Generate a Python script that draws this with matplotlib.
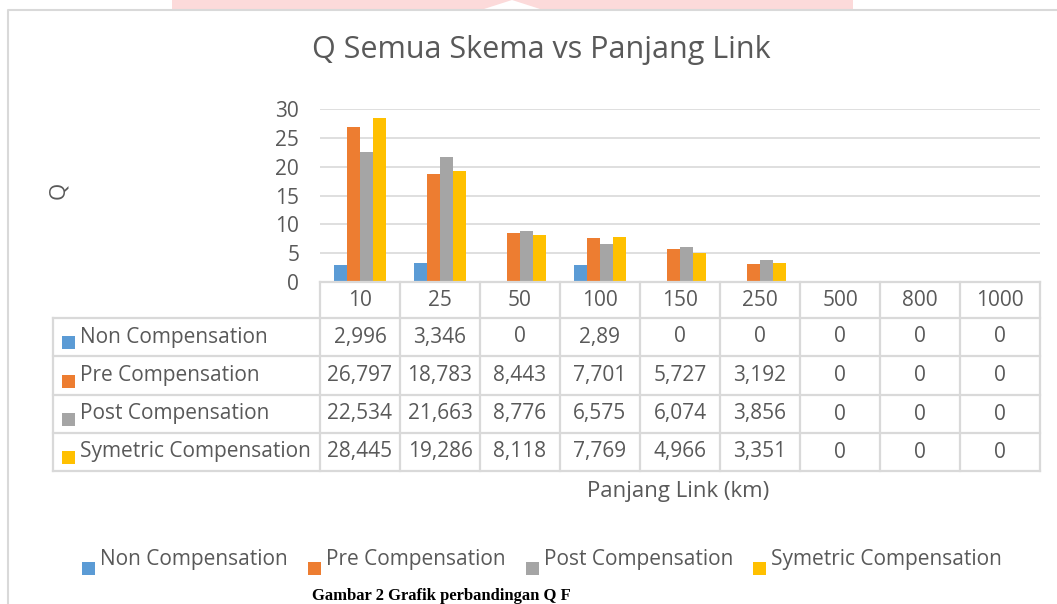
import matplotlib.pyplot as plt
from matplotlib.patches import Rectangle, Polygon
from matplotlib.lines import Line2D

plt.rcParams['font.family'] = ['Open Sans', 'DejaVu Sans']

categories = ['10', '25', '50', '100', '150', '250', '500', '800', '1000']
series_names = ['Non Compensation', 'Pre Compensation', 'Post Compensation', 'Symetric Compensation']
non_comp = [2.996, 3.346, 0, 2.89, 0, 0, 0, 0, 0]
pre_comp = [26.797, 18.783, 8.443, 7.701, 5.727, 3.192, 0, 0, 0]
post_comp = [22.534, 21.663, 8.776, 6.575, 6.074, 3.856, 0, 0, 0]
sym_comp = [28.445, 19.286, 8.118, 7.769, 4.966, 3.351, 0, 0, 0]
colors = ['#5b9bd5', '#ed7d31', '#a5a5a5', '#ffc000']
series = [non_comp, pre_comp, post_comp, sym_comp]

W, H = 1057, 604
fig = plt.figure(figsize=(W / 100, H / 100), dpi=100)
txt = '#595959'
grid = '#d9d9d9'
fs = 15


def fx(x):
    return x / W


def fy(y):
    return 1 - y / H


# watermark strip + chart frame
fig.patches.append(Polygon([(fx(172), fy(0)), (fx(853), fy(0)), (fx(853), fy(9)), (fx(540), fy(9)),
                            (fx(512), fy(0)), (fx(484), fy(9)), (fx(172), fy(9))],
                           closed=True, transform=fig.transFigure, color='#fcdada', lw=0))
fig.lines.append(Line2D([fx(8), fx(8), 1], [0, fy(10), fy(10)], transform=fig.transFigure, color=grid, lw=1.5))

# plot area
left, right, top, bottom = 320, 1040, 109, 282
ax = fig.add_axes([fx(left), fy(bottom), fx(right - left), (bottom - top) / H])
bw = 0.1625
for i, (vals, c) in enumerate(zip(series, colors)):
    xs = [k + (i - 1.5) * bw for k in range(len(categories))]
    ax.bar(xs, vals, width=bw, color=c, zorder=3)
ax.set_xlim(-0.5, len(categories) - 0.5)
ax.set_ylim(0, 30)
ax.set_yticks(range(0, 31, 5))
ax.yaxis.grid(True, color=grid, lw=1.2)
ax.set_xticks([])
for s in ['top', 'right', 'left', 'bottom']:
    ax.spines[s].set_visible(False)
ax.tick_params(axis='y', length=0, pad=15, labelsize=fs, labelcolor=txt)

fig.text(fx(541), fy(50), 'Q Semua Skema vs Panjang Link', ha='center', va='center', fontsize=22, color=txt)
fig.text(fx(59), fy(190), 'Q', rotation=90, ha='center', va='center', fontsize=16, color=txt)
fig.text(fx(678), fy(492), 'Panjang Link (km)', ha='center', va='center', fontsize=16, color=txt)

# data table
col_w = (right - left) / len(categories)
row_y = [282, 318, 356, 395, 433, 471]
tl = 53
lw_t = 1.6
fig.lines.append(Line2D([fx(left), fx(right)], [fy(282), fy(282)], transform=fig.transFigure, color=grid, lw=lw_t))
for yy in row_y[1:]:
    fig.lines.append(Line2D([fx(tl), fx(right)], [fy(yy), fy(yy)], transform=fig.transFigure, color=grid, lw=lw_t))
fig.lines.append(Line2D([fx(tl), fx(tl)], [fy(318), fy(471)], transform=fig.transFigure, color=grid, lw=lw_t))
for k in range(len(categories) + 1):
    xx = left + k * col_w
    fig.lines.append(Line2D([fx(xx), fx(xx)], [fy(282), fy(471)], transform=fig.transFigure, color=grid, lw=lw_t))
for k, cat in enumerate(categories):
    fig.text(fx(left + (k + 0.5) * col_w), fy(300), cat, ha='center', va='center', fontsize=fs, color=txt)
for r, (name, vals, c) in enumerate(zip(series_names, series, colors)):
    yc = (row_y[r + 1] + row_y[r + 2]) / 2
    fig.patches.append(Rectangle((fx(62), fy(yc + 12)), fx(13), 13 / H, transform=fig.transFigure, color=c, lw=0))
    fig.text(fx(80), fy(yc), name, ha='left', va='center', fontsize=fs, color=txt)
    for k, v in enumerate(vals):
        label = f'{v:g}'.replace('.', ',')
        fig.text(fx(left + (k + 0.5) * col_w), fy(yc), label, ha='center', va='center', fontsize=fs, color=txt)

# legend
leg_x = [82, 308, 526, 753]
for x0, name, c in zip(leg_x, series_names, colors):
    fig.patches.append(Rectangle((fx(x0), fy(575)), fx(13), 13 / H, transform=fig.transFigure, color=c, lw=0))
    fig.text(fx(x0 + 18), fy(560), name, ha='left', va='center', fontsize=fs, color=txt)

# caption below the chart (the source image crops it at the bottom edge)
fig.text(fx(312), fy(588), 'Gambar 2 Grafik perbandingan Q F', ha='left', va='top', fontsize=12,
         fontweight='bold', family='Liberation Serif', color='black')

fig.savefig('out.png', dpi=100)
